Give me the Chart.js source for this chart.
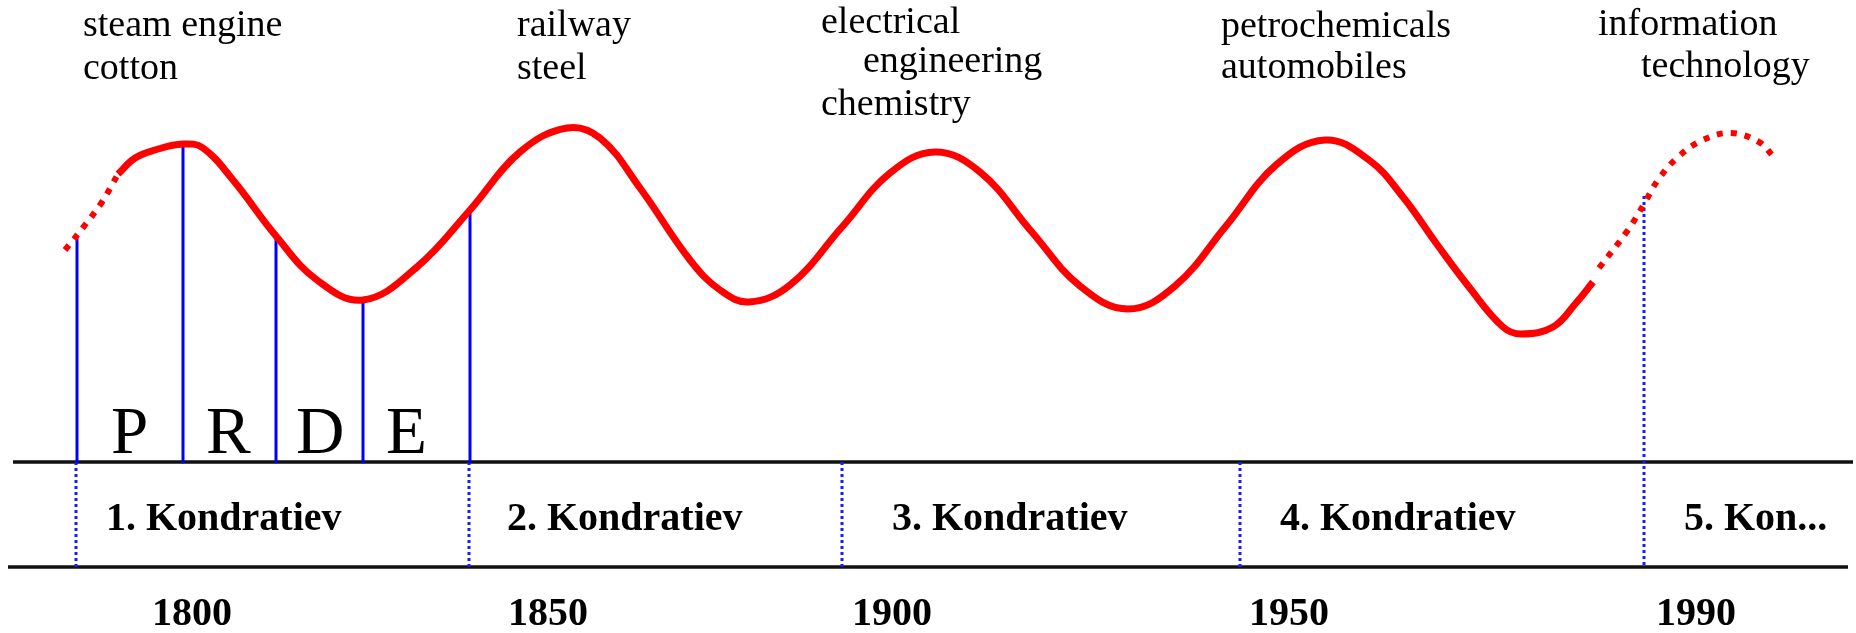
<!DOCTYPE html>
<html><head><meta charset="utf-8">
<script src="https://cdn.jsdelivr.net/npm/chart.js@4"></script>
<style>html,body{margin:0;padding:0;background:#fff;overflow:hidden}canvas{display:block}</style>
</head><body>
<canvas id="c" width="1856" height="633"></canvas>
<script>
// ---- DATA (x = time in schematic units, y = activity level, time axis = 0) ----
const waveX = [11.8,13.5,15.5,18.3,20.3,23.3,27.6,31.7,36.3,41.7,47.0,52.0,56.7,60.0,64.0,69.0,72.0,74.9,79.0,84.2,89.0,93.5,98.0,103.1,108.0,112.8,117.5,122.6,127.6,132.5,136.9,140.3,143.6,146.9,150.3,152.1,155.3,157.6,159.3];
const waveY = [28.8,30.4,31.2,31.8,31.4,28.2,22.6,18.2,16.2,19.5,25.2,31.0,33.4,32.4,27.4,20.2,17.2,16.0,17.7,23.5,28.9,31.0,29.0,23.1,17.6,15.3,17.6,23.6,29.7,32.2,30.2,26.5,21.9,17.5,13.5,12.8,13.5,15.9,18.0];
const leadInX = [6.5,8.5,10.2,11.8];
const leadInY = [21.2,23.7,26.0,28.8];
const outlookX = [159.9,162.8,164.4,165.8,167.8,170.3,173.1,175.9,177.3];
const outlookY = [19.4,23.2,25.8,28.2,30.5,32.2,32.9,32.0,30.6];
const phaseBoundX = [7.7,18.3,27.6,36.3,47.0];
const phaseBoundTop = [22.4,31.9,22.6,16.2,25.2];
const waveBoundX = [7.6,46.9,84.2,124.0,164.4];
const waveBoundTop = [0,0,0,0,26.6];
const bandTop = 0, bandBottom = -10.5;
const phases = ["P","R","D","E"];
const waves = ["1. Kondratiev","2. Kondratiev","3. Kondratiev","4. Kondratiev","5. Kon..."];
const years = ["1800","1850","1900","1950","1990"];
const industries = [["steam engine","cotton"],["railway","steel"],["electrical","engineering","chemistry"],["petrochemicals","automobiles"],["information","technology"]];

// ---- LAYOUT (label anchors in chart units) ----
const layout = {
  industryPos: [[[8.3,42.6],[8.3,38.3]],[[51.7,42.6],[51.7,38.3]],[[82.1,42.9],[86.3,39.0],[82.1,34.7]],[[122.1,42.5],[122.1,38.4]],[[159.8,42.7],[164.1,38.5]]],
  phaseX: [11.1,20.6,29.6,38.6], phaseY: 0.9,
  waveLabelX: [10.6,50.7,89.2,128.0,168.4], waveLabelY: -6.8,
  yearX: [15.2,50.8,85.2,124.9,165.6], yearY: -16.3,
  topLineX: [1.3,185.3], bottomLineX: [0.8,184.8]
};
const SERIF = '"Liberation Serif", "Times New Roman", serif';

const zip = (xs, ys) => xs.map((x,i)=>({x, y: ys[i]}));
const datasets = [];
const base = {showLine:true, pointRadius:0, fill:false, borderCapStyle:'butt', borderJoinStyle:'round'};
datasets.push({...base, data: zip(waveX, waveY), borderColor:'#ff0000', borderWidth:7, tension:0.4});
datasets.push({...base, data: zip(leadInX, leadInY), borderColor:'#ff0000', borderWidth:6, borderDash:[6,8], tension:0.4});
datasets.push({...base, data: zip(outlookX, outlookY), borderColor:'#ff0000', borderWidth:6, borderDash:[6,8], tension:0.4});
phaseBoundX.forEach((x,i)=>datasets.push({...base, data:[{x,y:phaseBoundTop[i]},{x,y:bandTop}], borderColor:'#0000ff', borderWidth:3}));
waveBoundX.forEach((x,i)=>datasets.push({...base, data:[{x,y:Math.max(waveBoundTop[i],bandTop)},{x,y:bandBottom}], borderColor:'#1a1aff', borderWidth:3, borderDash:[3,3]}));
datasets.push({...base, data:[{x:layout.topLineX[0],y:bandTop},{x:layout.topLineX[1],y:bandTop}], borderColor:'#111', borderWidth:3.5});
datasets.push({...base, data:[{x:layout.bottomLineX[0],y:bandBottom},{x:layout.bottomLineX[1],y:bandBottom}], borderColor:'#111', borderWidth:3.5});

const textPlugin = {
  id:'texts',
  afterDatasetsDraw(chart){
    const {ctx, scales:{x, y}} = chart;
    ctx.save();
    ctx.fillStyle = '#000'; ctx.textAlign = 'left'; ctx.textBaseline = 'alphabetic';
    const put = (t, xv, yv) => ctx.fillText(t, x.getPixelForValue(xv), y.getPixelForValue(yv));
    ctx.font = '38px ' + SERIF;
    industries.forEach((lines,i)=>lines.forEach((t,j)=>put(t, layout.industryPos[i][j][0], layout.industryPos[i][j][1])));
    ctx.font = '67px ' + SERIF;
    phases.forEach((t,i)=>put(t, layout.phaseX[i], layout.phaseY));
    ctx.font = 'bold 40px ' + SERIF;
    waves.forEach((t,i)=>put(t, layout.waveLabelX[i], layout.waveLabelY));
    years.forEach((t,i)=>put(t, layout.yearX[i], layout.yearY));
    ctx.restore();
  }
};

new Chart(document.getElementById('c'), {
  type:'scatter',
  data:{datasets},
  options:{
    responsive:false, animation:false, devicePixelRatio:1,
    layout:{padding:0},
    plugins:{legend:{display:false}, tooltip:{enabled:false}},
    scales:{
      x:{type:'linear', min:0, max:185.6, display:false},
      y:{type:'linear', min:-17.1, max:46.2, display:false}
    }
  },
  plugins:[textPlugin]
});
</script>
</body></html>
